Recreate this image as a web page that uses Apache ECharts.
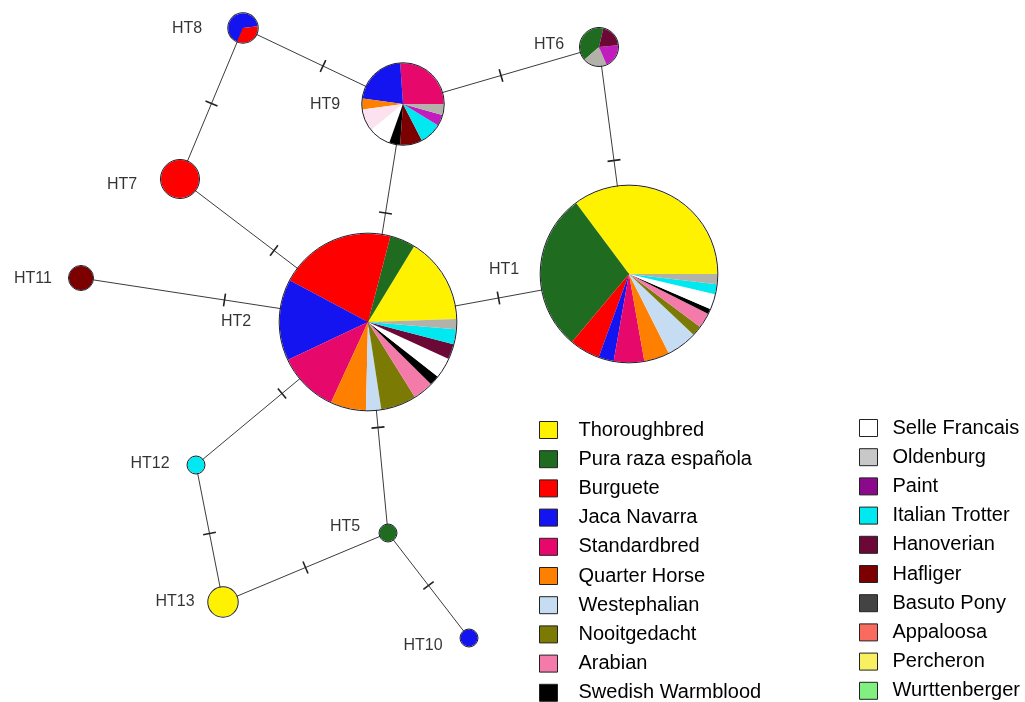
<!DOCTYPE html>
<html>
<head>
<meta charset="utf-8">
<title>Haplotype network</title>
<script src="https://cdn.jsdelivr.net/npm/echarts@6.0.0/dist/echarts.min.js"></script>
<style>
  html, body { margin: 0; padding: 0; background: #fff; }
  #main { width: 1025px; height: 702px; }
</style>
</head>
<body>
<div id="main"></div>
<script>
  // breeds in legend order
  const breeds = ['Thoroughbred', 'Pura raza española', 'Burguete', 'Jaca Navarra', 'Standardbred',
    'Quarter Horse', 'Westephalian', 'Nooitgedacht', 'Arabian', 'Swedish Warmblood',
    'Selle Francais', 'Oldenburg', 'Paint', 'Italian Trotter', 'Hanoverian',
    'Hafliger', 'Basuto Pony', 'Appaloosa', 'Percheron', 'Wurttenberger'];
  const breedColors = ['#fff200', '#1f6b1f', '#ff0000', '#1414f0', '#e6086b',
    '#ff7f00', '#c6dcf2', '#7a7a05', '#f47aaa', '#000000',
    '#ffffff', '#c8c8c8', '#8b0a8b', '#00e8f0', '#6b0836',
    '#7d0000', '#434343', '#f96a5f', '#f8f060', '#80f080'];

  // haplotype compositions (individuals per breed, counter-clockwise drawing order)
  const ht1Breeds = ['Thoroughbred', 'Pura raza española', 'Burguete', 'Jaca Navarra', 'Standardbred', 'Quarter Horse',
    'Westephalian', 'Nooitgedacht', 'Arabian', 'Swedish Warmblood', 'Selle Francais', 'Italian Trotter', 'Oldenburg'];
  const ht1Counts = [38, 31, 6, 3, 6, 5, 6, 2, 3, 1, 3, 2, 2];

  const ht2Breeds = ['Thoroughbred', 'Pura raza española', 'Burguete', 'Jaca Navarra', 'Standardbred', 'Quarter Horse',
    'Westephalian', 'Nooitgedacht', 'Arabian', 'Swedish Warmblood', 'Selle Francais', 'Hanoverian', 'Italian Trotter', 'Oldenburg'];
  const ht2Counts = [17, 5, 23, 16, 12, 7, 3, 7, 4, 2, 4, 3, 3, 2];

  const ht9Breeds = ['Standardbred', 'Jaca Navarra', 'Quarter Horse', 'Arabian', 'Selle Francais', 'Swedish Warmblood',
    'Hafliger', 'Italian Trotter', 'Paint', 'Oldenburg'];
  const ht9Counts = [6, 5, 1, 2, 2, 1, 2, 2, 1, 1];

  const ht6Breeds = ['Pura raza española', 'Oldenburg', 'Paint', 'Hanoverian'];
  const ht6Counts = [2, 1, 1, 1];

  const ht8Breeds = ['Jaca Navarra', 'Burguete'];
  const ht8Counts = [2, 1];

  const ht5Breeds = ['Pura raza española'];   const ht5Counts = [1];
  const ht7Breeds = ['Burguete'];             const ht7Counts = [5];
  const ht10Breeds = ['Jaca Navarra'];        const ht10Counts = [1];
  const ht11Breeds = ['Hafliger'];            const ht11Counts = [2];
  const ht12Breeds = ['Italian Trotter'];     const ht12Counts = [1];
  const ht13Breeds = ['Thoroughbred'];        const ht13Counts = [3];

  // network layout
  const haplotypes = ['HT1', 'HT2', 'HT5', 'HT6', 'HT7', 'HT8', 'HT9', 'HT10', 'HT11', 'HT12', 'HT13'];
  const nodeBreeds = [ht1Breeds, ht2Breeds, ht5Breeds, ht6Breeds, ht7Breeds, ht8Breeds, ht9Breeds, ht10Breeds, ht11Breeds, ht12Breeds, ht13Breeds];
  const nodeCounts = [ht1Counts, ht2Counts, ht5Counts, ht6Counts, ht7Counts, ht8Counts, ht9Counts, ht10Counts, ht11Counts, ht12Counts, ht13Counts];
  const nodeX = [629, 368, 388, 599, 180, 243, 403, 469, 81, 196, 223];
  const nodeY = [274, 322, 533, 47, 179, 28, 104, 638, 278, 465, 602];
  const labelX = [504, 236, 345, 549, 122, 187, 325, 423, 33, 150, 175];
  const labelY = [270, 322, 527, 45, 185, 29, 105, 646, 279, 464, 602];
  const startAngles = [0, 2, 90, 77, 90, 7, 0, 90, 90, 90, 90];

  // one mutation step per link
  const edgeFrom = ['HT8', 'HT8', 'HT9', 'HT6', 'HT9', 'HT7', 'HT11', 'HT2', 'HT2', 'HT2', 'HT12', 'HT13', 'HT5'];
  const edgeTo = ['HT9', 'HT7', 'HT6', 'HT1', 'HT2', 'HT2', 'HT2', 'HT1', 'HT12', 'HT5', 'HT13', 'HT5', 'HT10'];

  const unit = 8.5; // pie radius per sqrt(individual)
  const font = 'Liberation Sans, Arial, sans-serif';

  // slightly different shading used inside the pies
  const pieTint = { 'Oldenburg': '#b2b2aa', 'Paint': '#c21cbe' };
  const ht9Tint = [null, null, null, '#fbe2ee', null, null, null, null, null, null];

  function colorOf(name) {
    return breedColors[breeds.indexOf(name)];
  }

  let chart = echarts.init(document.getElementById('main'));

  const idx = (n) => haplotypes.indexOf(n);
  const edgeData = edgeFrom.map(function (a, k) {
    const i = idx(a), j = idx(edgeTo[k]);
    return [nodeX[i], nodeY[i], nodeX[j], nodeY[j]];
  });

  const baseOption = {
    animation: false,
    backgroundColor: '#fff',
    grid: { left: 0, right: 0, top: 0, bottom: 0 },
    xAxis: { type: 'value', min: 0, max: 1025, show: false },
    yAxis: { type: 'value', min: 0, max: 702, inverse: true, show: false },
    series: [{
      type: 'custom',
      name: 'links',
      silent: true,
      z: 1,
      data: edgeData,
      encode: { x: [0, 2], y: [1, 3] },
      renderItem: function (params, api) {
        const p1 = api.coord([api.value(0), api.value(1)]);
        const p2 = api.coord([api.value(2), api.value(3)]);
        const dx = p2[0] - p1[0], dy = p2[1] - p1[1];
        const len = Math.sqrt(dx * dx + dy * dy);
        const mx = (p1[0] + p2[0]) / 2, my = (p1[1] + p2[1]) / 2;
        const nx = -dy / len * 6.5, ny = dx / len * 6.5;
        return {
          type: 'group',
          children: [
            { type: 'line', shape: { x1: p1[0], y1: p1[1], x2: p2[0], y2: p2[1] },
              style: { stroke: '#3c3c3c', lineWidth: 1 } },
            { type: 'line', shape: { x1: mx - nx, y1: my - ny, x2: mx + nx, y2: my + ny },
              style: { stroke: '#222', lineWidth: 1.6 } }
          ]
        };
      }
    }]
  };
  chart.setOption(baseOption);

  // pies need pixel centres
  function pieSeries(i) {
    const names = nodeBreeds[i], counts = nodeCounts[i];
    const total = counts.reduce((a, b) => a + b, 0);
    const c = chart.convertToPixel({ gridIndex: 0 }, [nodeX[i], nodeY[i]]);
    return {
      type: 'pie',
      name: haplotypes[i],
      center: c,
      radius: unit * Math.sqrt(total),
      startAngle: startAngles[i],
      clockwise: false,
      silent: true,
      z: 3,
      label: { show: false },
      labelLine: { show: false },
      itemStyle: { borderWidth: 0 },
      data: names.map(function (n, k) {
        let col = pieTint[n] || colorOf(n);
        if (haplotypes[i] === 'HT9' && ht9Tint[k]) col = ht9Tint[k];
        return { name: n, value: counts[k], itemStyle: { color: col } };
      })
    };
  }

  const series = [];
  // hidden series carrying every breed for the legend
  series.push({
    type: 'pie',
    name: 'breeds',
    center: [-100, -100],
    radius: 0,
    silent: true,
    label: { show: false },
    labelLine: { show: false },
    data: breeds.map((n, k) => ({ name: n, value: 1, itemStyle: { color: breedColors[k] } }))
  });
  series.push(baseOption.series[0]);
  haplotypes.forEach(function (h, i) { series.push(pieSeries(i)); });

  // outline of each node
  series.push({
    type: 'scatter',
    name: 'outline',
    silent: true,
    z: 4,
    data: haplotypes.map(function (h, i) {
      const total = nodeCounts[i].reduce((a, b) => a + b, 0);
      return [nodeX[i], nodeY[i], total];
    }),
    symbolSize: function (v) { return 2 * unit * Math.sqrt(v[2]) + 1; },
    itemStyle: { color: 'rgba(0,0,0,0)', borderColor: '#1e1e2a', borderWidth: 1, opacity: 1 }
  });

  // haplotype names
  series.push({
    type: 'scatter',
    name: 'names',
    silent: true,
    z: 5,
    symbolSize: 0,
    data: haplotypes.map((h, i) => ({ name: h, value: [labelX[i], labelY[i]] })),
    label: { show: true, position: 'inside', formatter: '{b}', fontSize: 16, color: '#000', fontFamily: font }
  });

  const legendCommon = {
    orient: 'vertical',
    icon: 'rect',
    padding: 0,
    height: 330,
    itemWidth: 18,
    itemHeight: 17,
    itemGap: 9.2,
    selectedMode: false,
    itemStyle: { borderColor: '#222', borderWidth: 1 }
  };

  var option = {
    animation: false,
    backgroundColor: '#fff',
    grid: { left: 0, right: 0, top: 0, bottom: 0 },
    xAxis: { type: 'value', min: 0, max: 1025, show: false },
    yAxis: { type: 'value', min: 0, max: 702, inverse: true, show: false },
    legend: [
      Object.assign({}, legendCommon, {
        data: breeds.slice(0, 10), left: 539, top: 420,
        textStyle: { fontSize: 20, color: '#000', fontFamily: font, padding: [0, 0, 0, 16] }
      }),
      Object.assign({}, legendCommon, {
        data: breeds.slice(10), left: 859, top: 418,
        textStyle: { fontSize: 20, color: '#000', fontFamily: font, padding: [0, 0, 0, 10] }
      })
    ],
    series: series
  };
  chart.setOption(option, true);
</script>
</body>
</html>
